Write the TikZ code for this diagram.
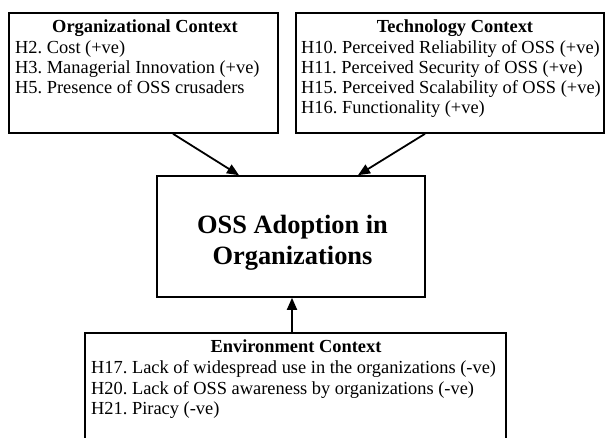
\documentclass[tikz,border=0pt]{standalone}
\usepackage{fontspec}
\setmainfont{Liberation Serif}
\usetikzlibrary{arrows.meta}
\frenchspacing
\begin{document}
\begin{tikzpicture}[x=1pt,y=1pt,
  box/.style={draw, line width=1.6pt, rectangle, inner sep=0pt},
  item/.style={anchor=base west, inner sep=0pt, font=\fontsize{18.4}{20}\selectfont},
  head/.style={anchor=base, inner sep=0pt, font=\fontsize{18.4}{20}\selectfont\bfseries},
  link/.style={line width=1.8pt, -{Triangle[length=12pt,width=10pt]}}]
\useasboundingbox (0,0) rectangle (605,437);
\clip (0,0) rectangle (605,437);

% context boxes and the central box
\node[box, minimum width=269pt, minimum height=120pt] (oc) at (143.5,364) {};
\node[box, minimum width=308pt, minimum height=120pt] (tc) at (450,364) {};
\node[box, minimum width=268pt, minimum height=121pt] (core) at (291,200.5) {};
\node[box, minimum width=421pt, minimum height=130pt] (env) at (295.5,39) {};

% organizational context
\node[head] (ocT) at (145,404) {Organizational Context};
\node[item] (oc1) at (15,383) {H2. Cost (+ve)};
\node[item] (oc2) at (15,363) {H3. Managerial Innovation (+ve)};
\node[item] (oc3) at (15,343) {H5. Presence of OSS crusaders};

% technology context
\node[head] (tcT) at (455,404) {Technology Context};
\node[item] (tc1) at (301,383.5) {H10. Perceived Reliability of OSS (+ve)};
\node[item] (tc2) at (301,363.5) {H11. Perceived Security of OSS (+ve)};
\node[item] (tc3) at (301,343.5) {H15. Perceived Scalability of OSS (+ve)};
\node[item] (tc4) at (301,323.5) {H16. Functionality (+ve)};

% central outcome
\node[align=center, inner sep=0pt, font=\fontsize{26.4}{31}\selectfont\bfseries] (coreT) at (292.5,194)
  {OSS Adoption in\\Organizations};

% environment context
\node[head] (envT) at (296,85) {Environment Context};
\node[item] (env1) at (91,64) {H17. Lack of widespread use in the organizations (-ve)};
\node[item] (env2) at (91,43) {H20. Lack of OSS awareness by organizations (-ve)};
\node[item] (env3) at (91,23) {H21. Piracy (-ve)};

% influences
\draw[link] ([xshift=29.5pt]oc.south) -- ([xshift=-52pt]core.north);
\draw[link] ([xshift=-25pt]tc.south) -- ([xshift=67pt]core.north);
\draw[link] ([xshift=-3.5pt]env.north) -- ([xshift=1pt]core.south);
\end{tikzpicture}
\end{document}
